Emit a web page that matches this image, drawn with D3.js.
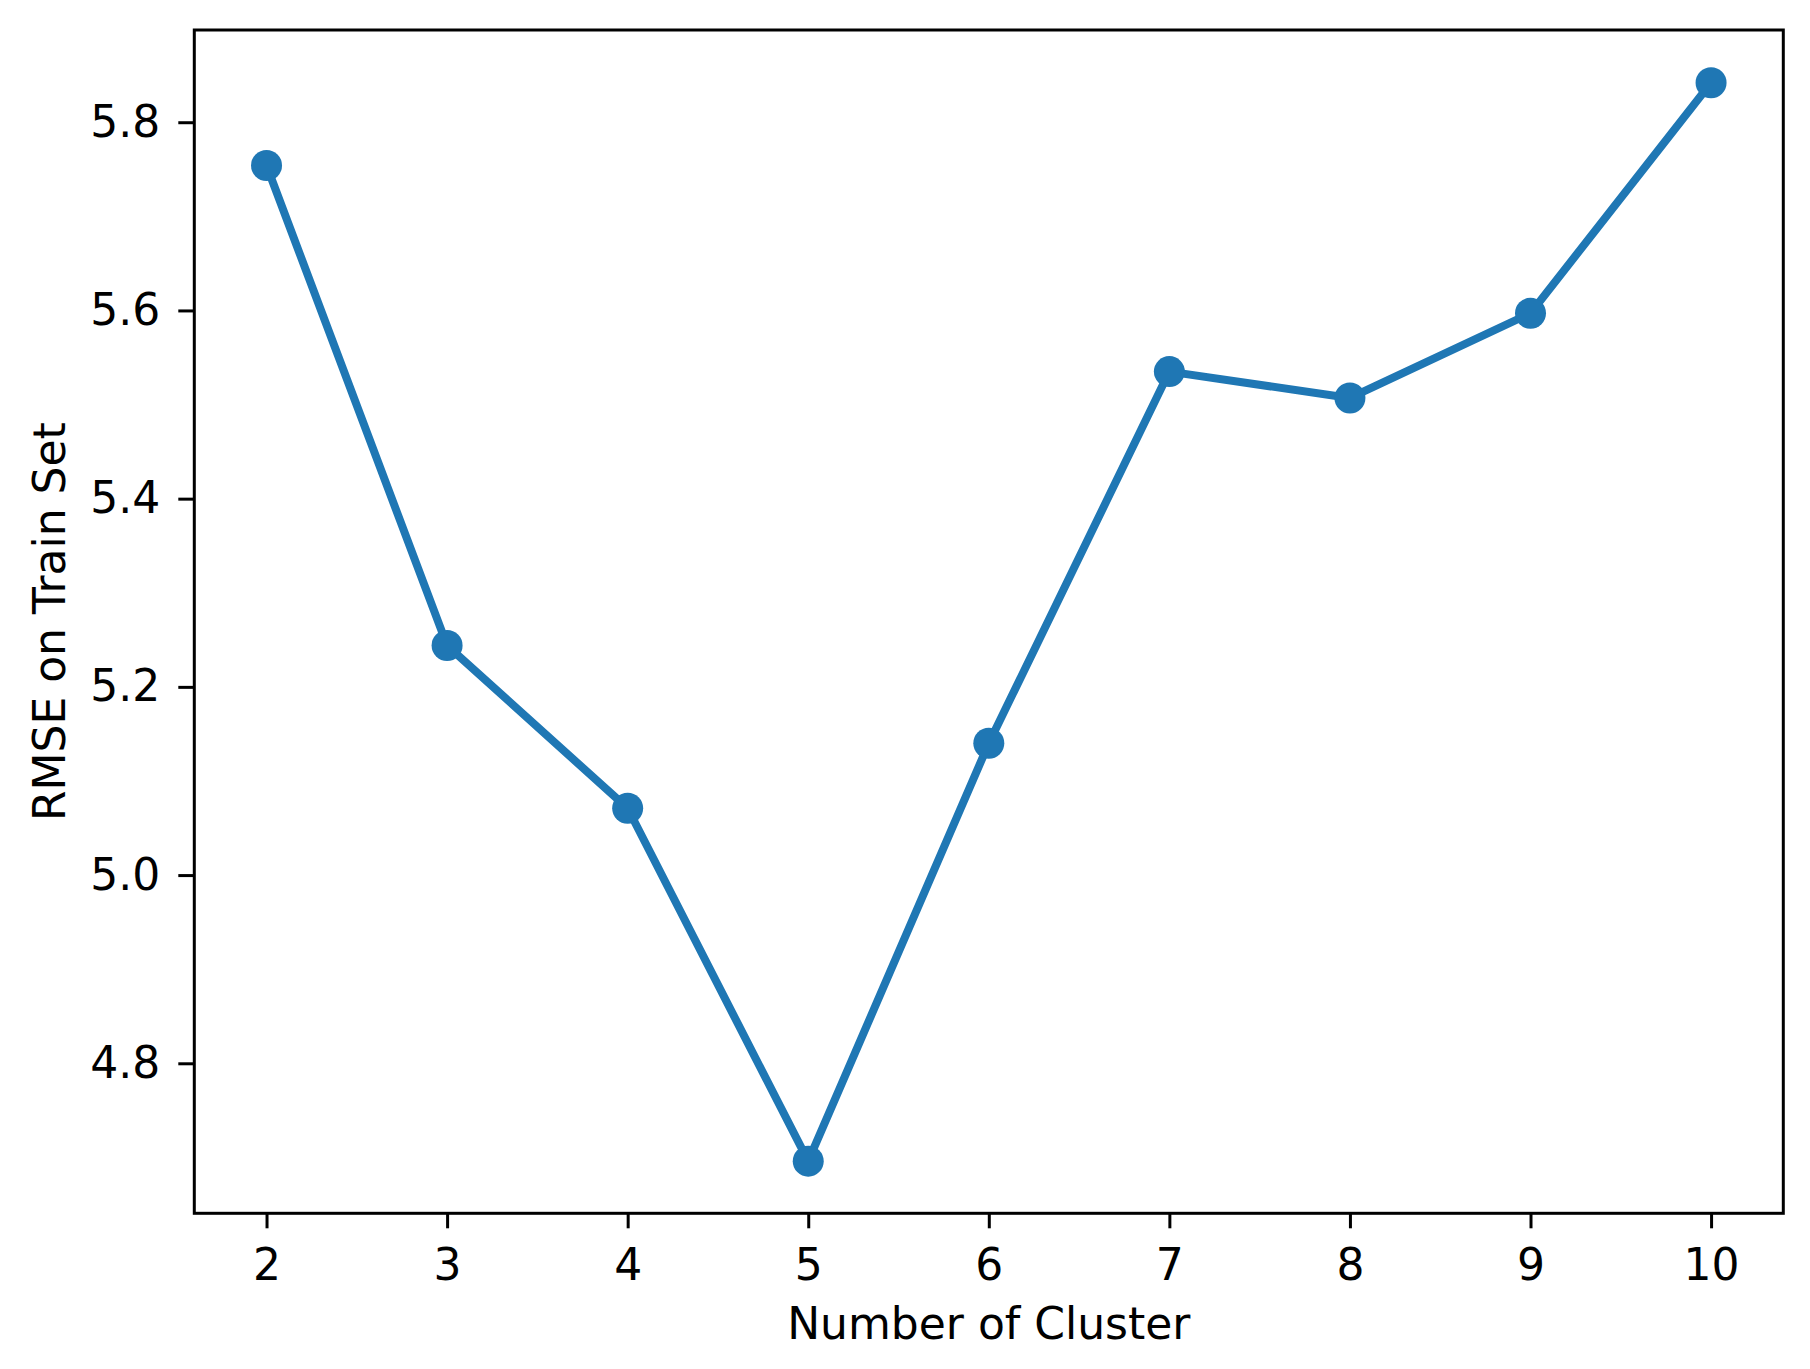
<!DOCTYPE html>
<html>
<head>
<meta charset="utf-8">
<script src="https://cdn.jsdelivr.net/npm/d3@7"></script>
<style>
  html, body { margin: 0; padding: 0; background: #fff; }
  svg { display: block; }
  text { font-family: "DejaVu Sans", sans-serif; fill: #000; }
</style>
</head>
<body>
<script>
const clusters = [2, 3, 4, 5, 6, 7, 8, 9, 10];
const rmse = [5.754, 5.244, 5.071, 4.696, 5.140, 5.535, 5.507, 5.597, 5.842];
const xTicks = [2, 3, 4, 5, 6, 7, 8, 9, 10];
const yTicks = [4.8, 5.0, 5.2, 5.4, 5.6, 5.8];
const xLabel = "Number of Cluster";
const yLabel = "RMSE on Train Set";

(function () {
const W = 1810, H = 1369;
const pL = 194.3, pR = 1783.3, pT = 30, pB = 1213.3;
const color = "#1f77b4";
const fontSize = 44;

const svg = d3.select("body").append("svg").attr("width", W).attr("height", H);
svg.append("rect").attr("width", W).attr("height", H).attr("fill", "#fff");

const x = d3.scaleLinear().domain([1.6, 10.4]).range([pL, pR]);
const y = d3.scaleLinear().domain([4.6406, 5.898]).range([pB, pT]);

// axes
const xAxis = svg.append("g").attr("transform", `translate(0,${pB})`)
  .call(d3.axisBottom(x).tickValues(xTicks).tickFormat(d3.format("d")).tickSize(15).tickSizeOuter(0).tickPadding(20));
const yAxis = svg.append("g").attr("transform", `translate(${pL},0)`)
  .call(d3.axisLeft(y).tickValues(yTicks).tickFormat(d3.format(".1f")).tickSize(16).tickSizeOuter(0).tickPadding(18));
[xAxis, yAxis].forEach(g => {
  g.select(".domain").remove();
  g.selectAll(".tick line").attr("stroke", "#000").attr("stroke-width", 3);
  g.selectAll(".tick text").attr("font-size", fontSize).attr("font-family", "DejaVu Sans").attr("fill", "#000");
});

// line and markers
const line = d3.line().x((d, i) => x(clusters[i])).y(d => y(d));
svg.append("path").datum(rmse).attr("d", line)
  .attr("fill", "none").attr("stroke", color).attr("stroke-width", 8)
  .attr("stroke-linejoin", "round").attr("stroke-linecap", "butt");
svg.selectAll("circle.pt").data(rmse).enter().append("circle").attr("class", "pt")
  .attr("cx", (d, i) => x(clusters[i])).attr("cy", d => y(d)).attr("r", 15.5).attr("fill", color);

// frame
svg.append("rect").attr("x", pL).attr("y", pT).attr("width", pR - pL).attr("height", pB - pT)
  .attr("fill", "none").attr("stroke", "#000").attr("stroke-width", 3);

// labels
svg.append("text").attr("x", (pL + pR) / 2).attr("y", 1339.3).attr("text-anchor", "middle")
  .attr("font-size", fontSize).text(xLabel);
svg.append("text").attr("transform", `translate(65,${(pT + pB) / 2}) rotate(-90)`)
  .attr("text-anchor", "middle").attr("font-size", fontSize).text(yLabel);
})();
</script>
</body>
</html>
